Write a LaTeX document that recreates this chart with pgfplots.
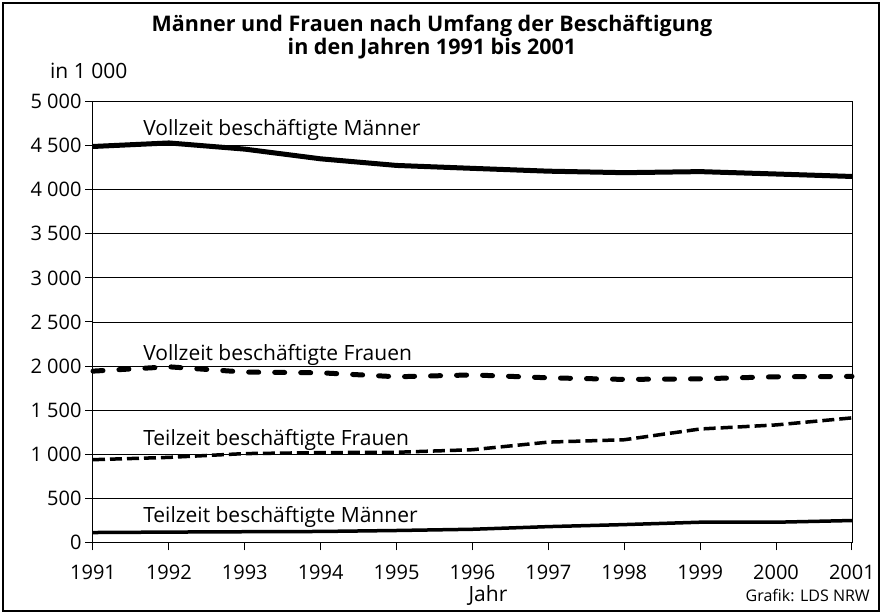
\documentclass[border=0pt]{standalone}
\usepackage{fontspec}
\setmainfont{Open Sans}
\usepackage{pgfplots}
\pgfplotsset{compat=1.18}
\begin{document}
\begin{tikzpicture}
\begin{axis}[
  scale only axis, width=759pt, height=441pt,
  xmin=1991, xmax=2001, ymin=0, ymax=5000,
  xtick={1991,1992,...,2001}, ytick={0,500,...,5000},
  ymajorgrids, grid style={black, line width=0.9pt},
  axis line style={black, line width=1pt},
  tick style={black, line width=1pt},
  tick align=outside, major tick length=8pt,
  xtick pos=bottom, ytick pos=left,
  font=\fontsize{20}{23}\selectfont,
  /pgf/number format/assume math mode=true,
  /pgf/number format/1000 sep={\ },
  x tick label style={/pgf/number format/1000 sep={}, yshift=-11pt},
  clip=false,
]
% Vollzeit Maenner
\addplot[black, line width=5pt, line join=round] coordinates {
 (1991,4490) (1992,4530) (1993,4460) (1994,4350) (1995,4275) (1996,4242)
 (1997,4210) (1998,4193) (1999,4205) (2000,4178) (2001,4150)};
% Vollzeit Frauen
\addplot[black, line width=5pt, line cap=round, dash pattern=on 10pt off 16pt] coordinates {
 (1991,1943) (1992,1992) (1993,1932) (1994,1924) (1995,1879) (1996,1900)
 (1997,1867) (1998,1849) (1999,1856) (2000,1879) (2001,1883)};
% Teilzeit Frauen
\addplot[black, line width=3.5pt, dash pattern=on 12pt off 5pt] coordinates {
 (1991,939) (1992,965) (1993,1008) (1994,1019) (1995,1023) (1996,1052)
 (1997,1138) (1998,1165) (1999,1287) (2000,1333) (2001,1413)};
% Teilzeit Maenner
\addplot[black, line width=3.5pt, line join=round] coordinates {
 (1991,113) (1992,118) (1993,122) (1994,125) (1995,136) (1996,150)
 (1997,180) (1998,203) (1999,230) (2000,230) (2001,249)};

\begin{scope}[every node/.style={anchor=base west, inner sep=0pt, font=\fontsize{21}{24}\selectfont}]
\node at (axis cs:1991.66,4609) {Vollzeit beschäftigte Männer};
\node at (axis cs:1991.66,2058) {Vollzeit beschäftigte Frauen};
\node at (axis cs:1991.66,1097) {Teilzeit beschäftigte Frauen};
\node at (axis cs:1991.66,224) {Teilzeit beschäftigte Männer};
\end{scope}

\node[anchor=north, align=center, inner sep=0pt, font=\fontsize{21.5}{20.5}\selectfont\bfseries]
  at (rel axis cs:0.4466,1.1962) {Männer und Frauen nach Umfang der Beschäftigung\\in den Jahren 1991 bis 2001};
\node[anchor=west, inner sep=0pt, font=\fontsize{21}{24}\selectfont] at (rel axis cs:-0.0567,1.0692) {in 1 000};
\node[anchor=base, inner sep=0pt, font=\fontsize{21}{24}\selectfont] at (rel axis cs:0.5204,-0.1343) {Jahr};
\node[anchor=base east, inner sep=0pt, font=\fontsize{16}{19}\selectfont] at (rel axis cs:1.0237,-0.1343) {Grafik: LDS NRW};

\draw[line width=1.5pt] (rel axis cs:-0.1186,-0.1553) rectangle (rel axis cs:1.0356,1.2234);
\path (rel axis cs:-0.12253,-0.16213) rectangle (rel axis cs:1.03953,1.23016);
\end{axis}
\end{tikzpicture}
\end{document}
